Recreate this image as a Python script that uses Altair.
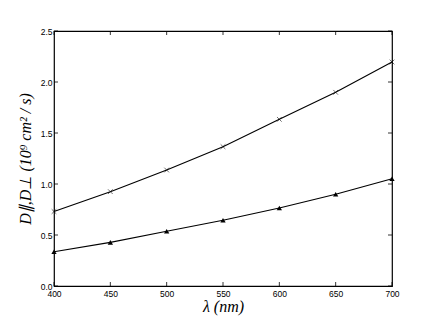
import altair as alt
import pandas as pd

wavelength = [400, 450, 500, 550, 600, 650, 700]
d_par = [0.73, 0.925, 1.137, 1.366, 1.634, 1.899, 2.196]
d_perp = [0.336, 0.428, 0.536, 0.644, 0.765, 0.899, 1.052]
x_ticks = [400, 450, 500, 550, 600, 650, 700]
y_ticks = [0.0, 0.5, 1.0, 1.5, 2.0, 2.5]

W, H = 338, 255

df = pd.DataFrame({"x": wavelength + wavelength,
                   "y": d_par + d_perp,
                   "s": ["par"] * len(wavelength) + ["perp"] * len(wavelength)})
dpar = df[df.s == "par"]
dperp = df[df.s == "perp"]

xs = alt.Scale(domain=[400, 700], nice=False, zero=False)
ys = alt.Scale(domain=[0, 2.5], nice=False)

x_axis = alt.Axis(values=x_ticks, format="d", title="λ (nm)", tickSize=0,
                  labelFont="Liberation Sans", labelFontSize=8.5, labelColor="black",
                  labelPadding=3, labelFlush=False, labelOverlap=False,
                  titleFont="Liberation Serif", titleFontStyle="italic",
                  titleFontWeight="normal", titleFontSize=16, titleColor="black",
                  titlePadding=1, domain=False, grid=False)
y_axis = alt.Axis(values=y_ticks, format=".1f", title="D∥,D⊥ (10⁹ cm² / s)", tickSize=0,
                  labelFont="Liberation Sans", labelFontSize=8.5, labelColor="black",
                  labelPadding=2, labelFlush=False, labelOverlap=False,
                  titleFont="Liberation Serif", titleFontStyle="italic",
                  titleFontWeight="normal", titleFontSize=16, titleColor="black",
                  titlePadding=7, domain=False, grid=False)

base = alt.Chart(df)

lines = base.mark_line(color="black", strokeWidth=1.1).encode(
    x=alt.X("x:Q", scale=xs, axis=x_axis),
    y=alt.Y("y:Q", scale=ys, axis=y_axis),
    detail="s:N",
)

cross = alt.Chart(dpar).mark_point(
    shape="M-1,-1L1,1M-1,1L1,-1", size=22, filled=False, color="black", strokeWidth=0.8
).encode(x=alt.X("x:Q", scale=xs), y=alt.Y("y:Q", scale=ys))

tri = alt.Chart(dperp).mark_point(
    shape="triangle-up", size=28, filled=True, color="black", opacity=1
).encode(x=alt.X("x:Q", scale=xs), y=alt.Y("y:Q", scale=ys))

xt = pd.DataFrame({"x": x_ticks})
yt = pd.DataFrame({"y": y_ticks})

xtick_b = alt.Chart(xt).mark_rule(color="black", strokeWidth=0.8).encode(
    x=alt.X("x:Q", scale=xs), y=alt.value(H), y2=alt.value(H - 4))
xtick_t = alt.Chart(xt).mark_rule(color="black", strokeWidth=0.8).encode(
    x=alt.X("x:Q", scale=xs), y=alt.value(0), y2=alt.value(4))
ytick_l = alt.Chart(yt).mark_rule(color="black", strokeWidth=0.8).encode(
    y=alt.Y("y:Q", scale=ys), x=alt.value(0), x2=alt.value(4))
ytick_r = alt.Chart(yt).mark_rule(color="black", strokeWidth=0.8).encode(
    y=alt.Y("y:Q", scale=ys), x=alt.value(W), x2=alt.value(W - 4))

chart = alt.layer(lines, cross, tri, xtick_b, xtick_t, ytick_l, ytick_r).properties(
    width=W, height=H,
    background="white",
    autosize=alt.AutoSizeParams(type="none"),
    padding={"left": 46, "top": 23, "right": 36, "bottom": 30},
).configure_view(stroke="black", strokeWidth=1.2)

chart.save("out.html", embed_options={"renderer": "svg", "actions": False})
